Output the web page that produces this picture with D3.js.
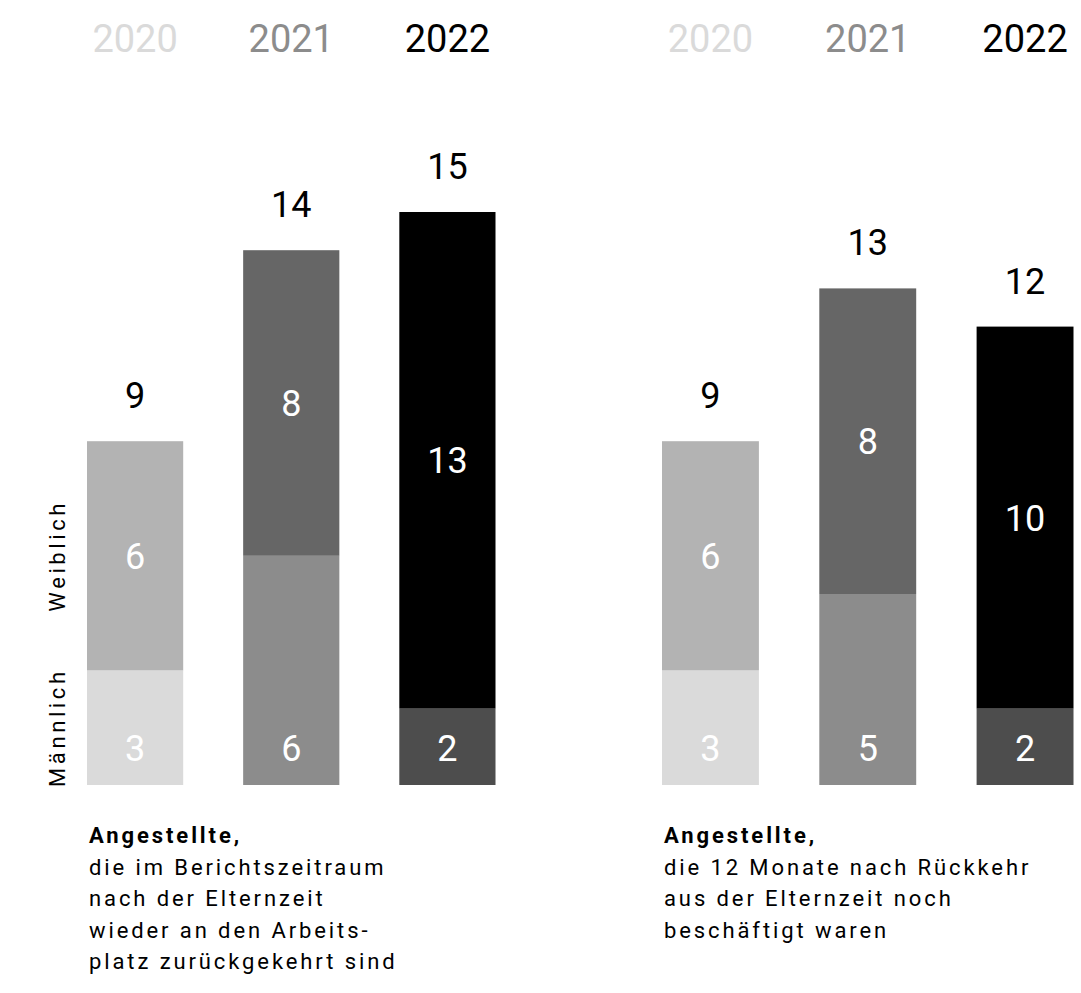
<!DOCTYPE html>
<html>
<head>
<meta charset="utf-8">
<script src="https://cdn.jsdelivr.net/npm/d3@7"></script>
<style>
  body { margin: 0; background: #fff; }
  svg { display: block; font-family: Roboto, "Noto Sans", sans-serif; }
</style>
</head>
<body>
<svg id="chart" width="1081" height="993"></svg>
<script>
// data
var years = ["2020", "2021", "2022"];
var returnedMale = [3, 6, 2];
var returnedFemale = [6, 8, 13];
var retainedMale = [3, 5, 2];
var retainedFemale = [6, 8, 10];
var genderLabels = ["Weiblich", "Männlich"];
var captionLeft = ["Angestellte,", "die im Berichtszeitraum", "nach der Elternzeit", "wieder an den Arbeits-", "platz zurückgekehrt sind"];
var captionRight = ["Angestellte,", "die 12 Monate nach Rückkehr", "aus der Elternzeit noch", "beschäftigt waren"];

var maleColors = ["#dadada", "#8c8c8c", "#4d4d4d"];
var femaleColors = ["#b3b3b3", "#666666", "#000000"];
var yearColors = ["#dadada", "#8c8c8c", "#000000"];

var svg = d3.select("#chart");

// shared value scale
var y = d3.scaleLinear()
    .domain([0, 15])
    .range([785, 785 - 15 * 38.2]);

function drawPanel(male, female, x0, x1, caption, withGender) {
    var x = d3.scaleBand()
        .domain(years)
        .range([x0, x1])
        .paddingInner(0.384)
        .paddingOuter(0);

    var rows = years.map(function(yr, i) {
        return {year: yr, i: i, male: male[i], female: female[i], total: male[i] + female[i]};
    });

    var g = svg.append("g");

    // year header
    g.selectAll(".year")
        .data(rows)
        .enter()
        .append("text")
        .attr("x", function(d) { return x(d.year) + x.bandwidth() / 2; })
        .attr("y", 52)
        .attr("text-anchor", "middle")
        .attr("font-size", 38)
        .attr("fill", function(d) { return yearColors[d.i]; })
        .text(function(d) { return d.year; });

    // male segments
    g.selectAll(".male")
        .data(rows)
        .enter()
        .append("rect")
        .attr("x", function(d) { return x(d.year); })
        .attr("width", x.bandwidth())
        .attr("y", function(d) { return y(d.male); })
        .attr("height", function(d) { return y(0) - y(d.male); })
        .attr("fill", function(d) { return maleColors[d.i]; });

    // female segments
    g.selectAll(".female")
        .data(rows)
        .enter()
        .append("rect")
        .attr("x", function(d) { return x(d.year); })
        .attr("width", x.bandwidth())
        .attr("y", function(d) { return y(d.total); })
        .attr("height", function(d) { return y(d.male) - y(d.total); })
        .attr("fill", function(d) { return femaleColors[d.i]; });

    // labels inside
    g.selectAll(".maleLbl")
        .data(rows)
        .enter()
        .append("text")
        .attr("x", function(d) { return x(d.year) + x.bandwidth() / 2; })
        .attr("y", y(0) - 24)
        .attr("text-anchor", "middle")
        .attr("font-size", 36)
        .attr("fill", "#fff")
        .text(function(d) { return d.male; });

    g.selectAll(".femaleLbl")
        .data(rows)
        .enter()
        .append("text")
        .attr("x", function(d) { return x(d.year) + x.bandwidth() / 2; })
        .attr("y", function(d) { return (y(d.male) + y(d.total)) / 2; })
        .attr("dy", "0.36em")
        .attr("text-anchor", "middle")
        .attr("font-size", 36)
        .attr("fill", "#fff")
        .text(function(d) { return d.female; });

    // totals
    g.selectAll(".total")
        .data(rows)
        .enter()
        .append("text")
        .attr("x", function(d) { return x(d.year) + x.bandwidth() / 2; })
        .attr("y", function(d) { return y(d.total) - 33; })
        .attr("text-anchor", "middle")
        .attr("font-size", 36)
        .attr("fill", "#000")
        .text(function(d) { return d.total; });

    // gender labels next to first bar
    if (withGender) {
        var first = rows[0];
        var mids = [(y(first.male) + y(first.total)) / 2, (y(0) + y(first.male)) / 2];
        g.selectAll(".gender")
            .data(genderLabels)
            .enter()
            .append("text")
            .attr("transform", function(d, i) { return "translate(65," + mids[i] + ") rotate(-90)"; })
            .attr("text-anchor", "middle")
            .attr("font-size", 22)
            .attr("letter-spacing", 3.6)
            .attr("fill", "#000")
            .text(function(d) { return d; });
    }

    // caption
    g.selectAll(".caption")
        .data(caption)
        .enter()
        .append("text")
        .attr("x", x0 + 2)
        .attr("y", function(d, i) { return 843 + i * 31.5; })
        .attr("font-size", 22)
        .attr("letter-spacing", 2.9)
        .attr("font-weight", function(d, i) { return i === 0 ? 700 : 400; })
        .attr("fill", "#000")
        .text(function(d) { return d; });
}

drawPanel(returnedMale, returnedFemale, 87, 495.5, captionLeft, true);
drawPanel(retainedMale, retainedFemale, 662, 1073.5, captionRight, false);
</script>
</body>
</html>
